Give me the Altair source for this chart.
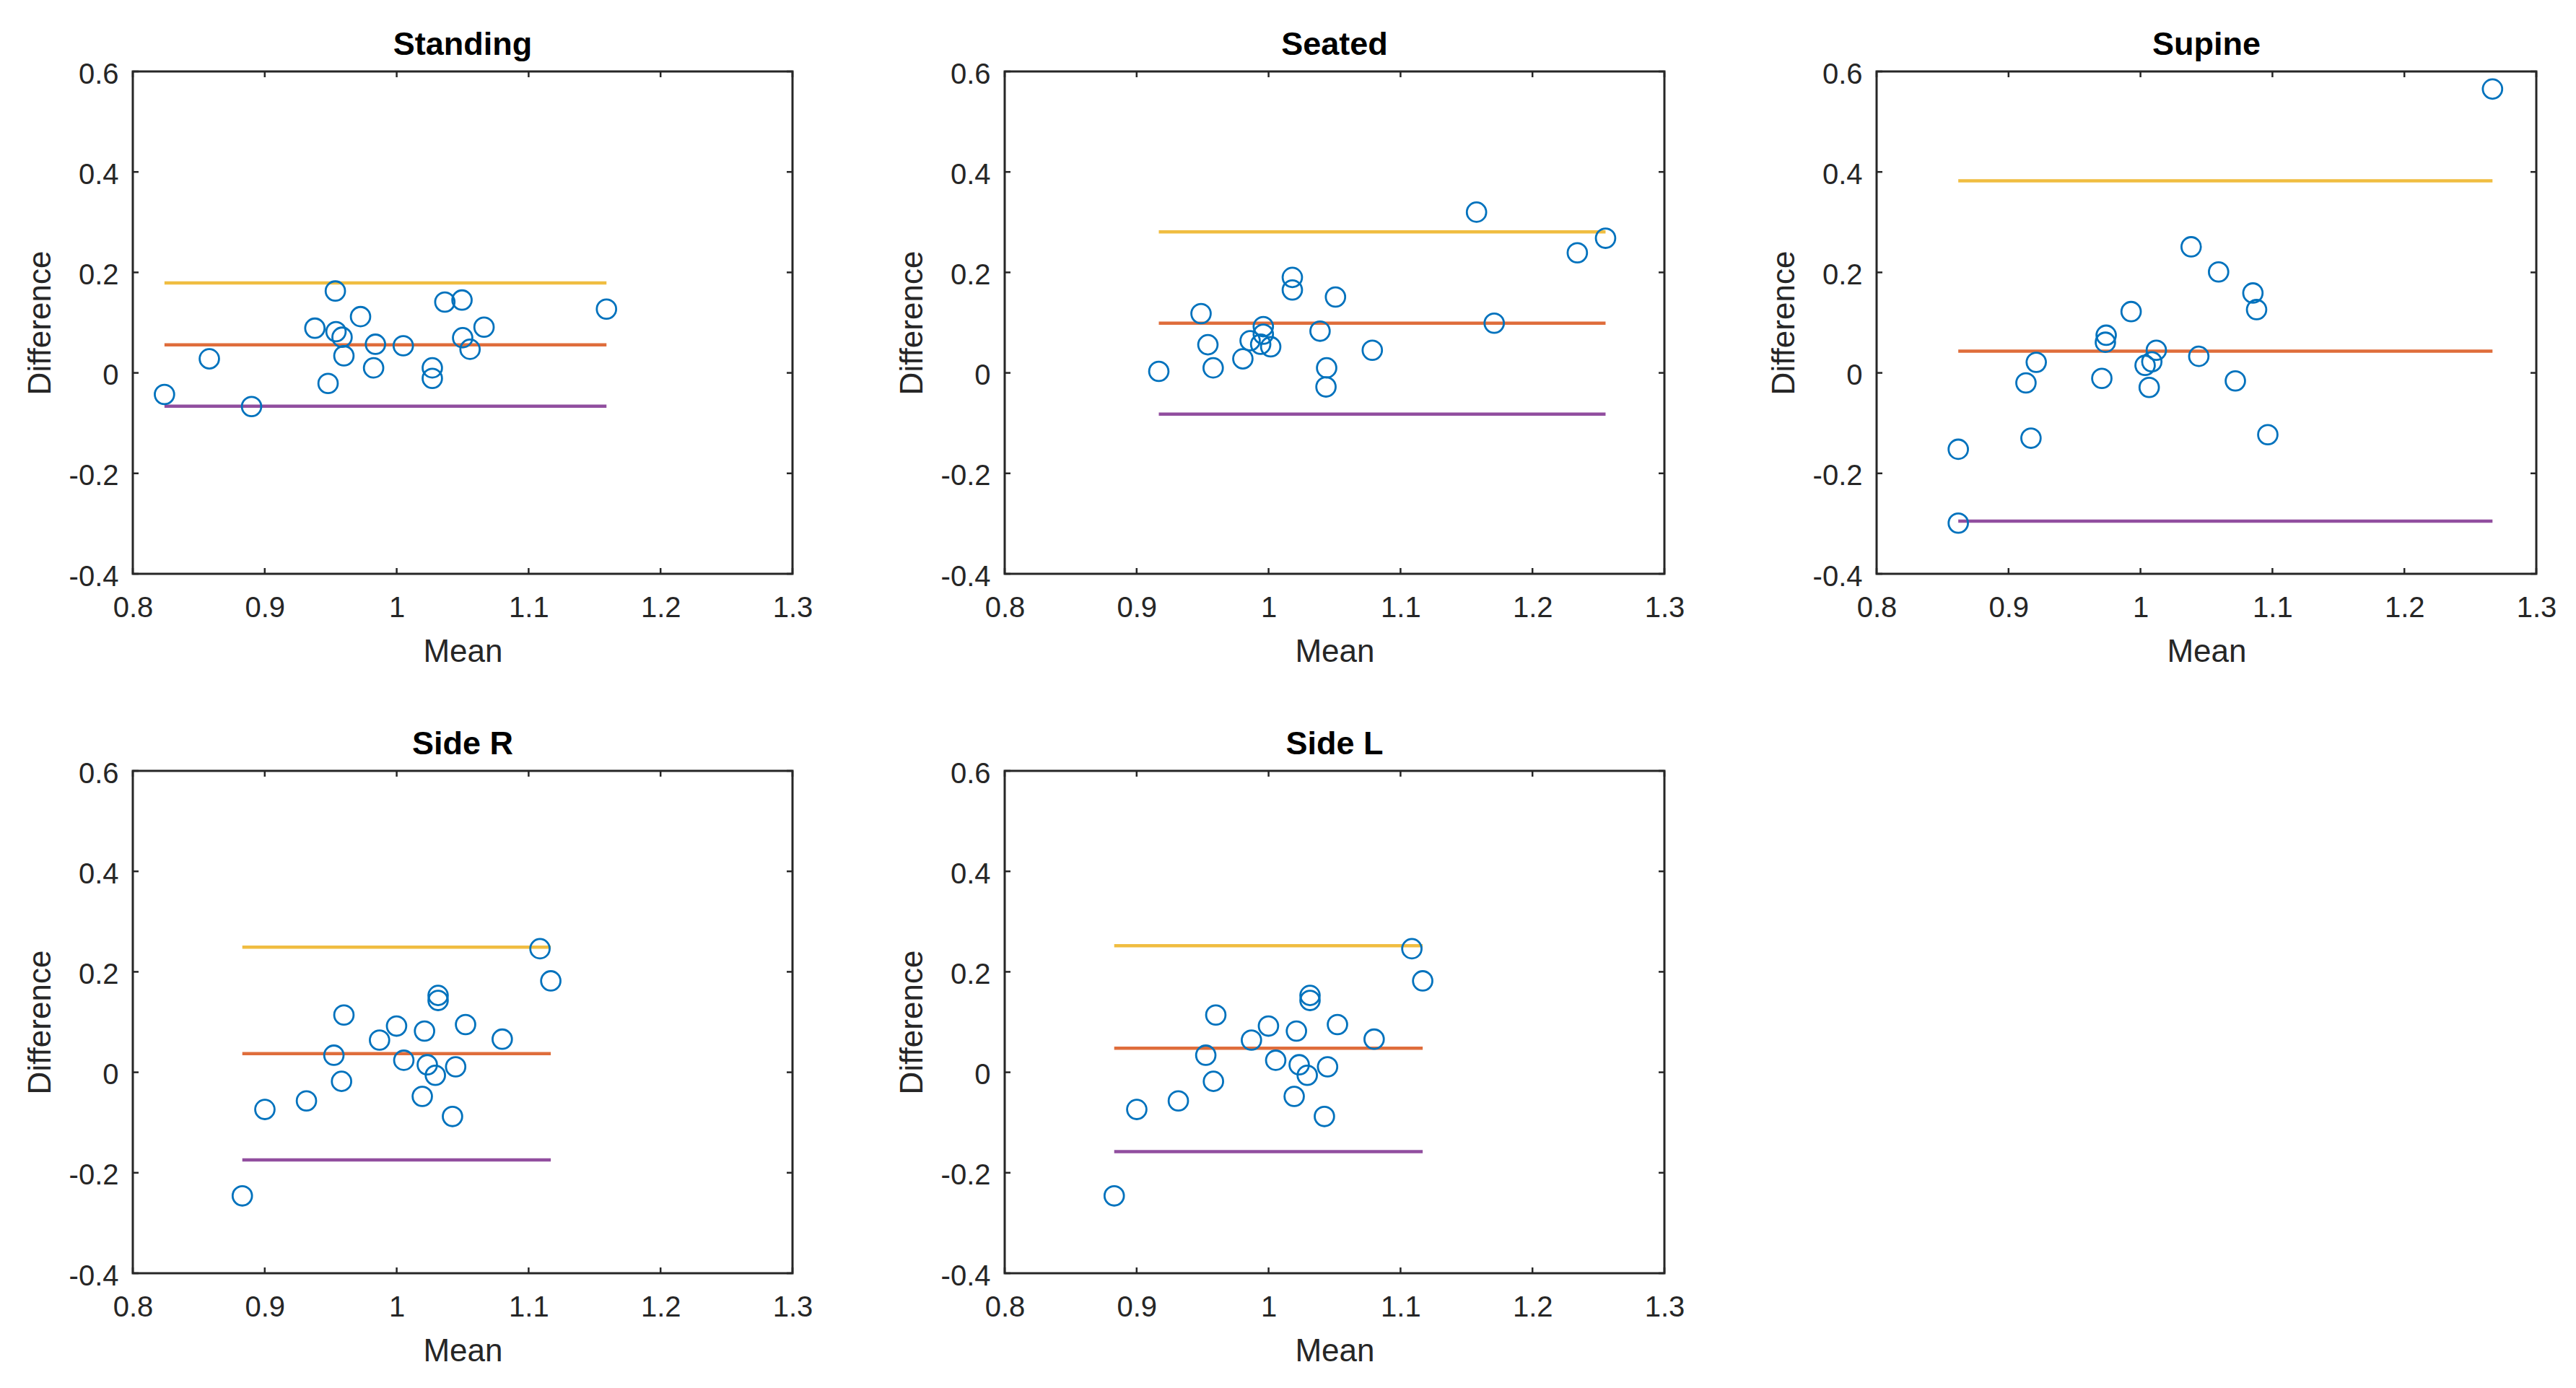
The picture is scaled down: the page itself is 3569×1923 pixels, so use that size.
import altair as alt
import pandas as pd

# ---------------- data ----------------
panel_titles = ["Standing", "Seated", "Supine", "Side R", "Side L"]

standing_mean = [0.824, 0.858, 0.890, 0.938, 0.948, 0.9535, 0.954, 0.9586, 0.960, 0.9726,
                 0.9825, 0.9839, 1.005, 1.027, 1.027, 1.0365, 1.0495, 1.050, 1.0556, 1.0662, 1.159]
standing_diff = [-0.043, 0.028, -0.067, 0.089, -0.021, 0.163, 0.082, 0.071, 0.034, 0.112,
                 0.010, 0.057, 0.054, 0.010, -0.011, 0.141, 0.145, 0.070, 0.047, 0.091, 0.127]

seated_mean = [0.9168, 0.9488, 0.954, 0.958, 0.9805, 0.986, 0.996, 0.996, 0.994, 1.0016,
               1.018, 1.018, 1.039, 1.044, 1.0435, 1.0507, 1.0786, 1.1576, 1.171, 1.234, 1.2554]
seated_diff = [0.003, 0.118, 0.056, 0.010, 0.028, 0.064, 0.092, 0.077, 0.057, 0.052,
               0.190, 0.165, 0.083, 0.010, -0.028, 0.151, 0.045, 0.320, 0.099, 0.239, 0.268]

supine_mean = [1.2668, 1.0384, 1.0592, 1.0852, 1.088, 0.9929, 0.974, 0.9734, 1.012, 1.0442,
               0.921, 1.0086, 1.0035, 0.9707, 0.9132, 1.0719, 1.0066, 0.917, 1.0965, 0.8619, 0.8619]
supine_diff = [0.565, 0.251, 0.201, 0.159, 0.126, 0.122, 0.075, 0.061, 0.045, 0.033,
               0.021, 0.022, 0.015, -0.011, -0.020, -0.016, -0.029, -0.130, -0.123, -0.152, -0.299]

side_r_mean = [1.1086, 1.1168, 1.0314, 1.0314, 0.960, 0.9999, 1.0522, 1.0211, 0.987, 1.080,
               0.9524, 1.0054, 1.0232, 1.0447, 1.0293, 0.9582, 1.0194, 0.9316, 0.9001, 1.0423, 0.883]
side_r_diff = [0.246, 0.182, 0.153, 0.143, 0.114, 0.092, 0.095, 0.082, 0.064, 0.066,
               0.034, 0.024, 0.015, 0.011, -0.006, -0.018, -0.048, -0.057, -0.074, -0.088, -0.246]

side_l_mean = [1.1086, 1.1168, 1.0314, 1.0314, 0.960, 0.9999, 1.0522, 1.0211, 0.987, 1.080,
               0.9524, 1.0054, 1.0232, 1.0447, 1.0293, 0.9582, 1.0194, 0.9316, 0.9001, 1.0423, 0.883]
side_l_diff = [0.246, 0.182, 0.153, 0.143, 0.114, 0.092, 0.095, 0.082, 0.064, 0.066,
               0.034, 0.024, 0.015, 0.011, -0.006, -0.018, -0.048, -0.057, -0.074, -0.088, -0.246]

upper_loa = [0.179, 0.2805, 0.3824, 0.249, 0.252]
mean_bias = [0.0558, 0.099, 0.0433, 0.037, 0.048]
lower_loa = [-0.0663, -0.082, -0.295, -0.1745, -0.158]

x_ticks = [0.8, 0.9, 1.0, 1.1, 1.2, 1.3]
y_ticks = [-0.4, -0.2, 0, 0.2, 0.4, 0.6]

means = [standing_mean, seated_mean, supine_mean, side_r_mean, side_l_mean]
diffs = [standing_diff, seated_diff, supine_diff, side_r_diff, side_l_diff]

# ---------------- style ----------------
W, H = 914, 696
TICK = 8
FONT = "Liberation Sans"
AX = "#262626"
C_PTS = "#0072BD"
C_UP = "#EDB120"
C_BIAS = "#D95319"
C_LOW = "#7E2F8E"

xscale = alt.Scale(domain=[0.8, 1.3], nice=False, zero=False)
yscale = alt.Scale(domain=[-0.4, 0.6], nice=False, zero=False)
label_expr = "replace(format(datum.value, '~g'), '\u2212', '-')"

xaxis = alt.Axis(values=x_ticks, labelExpr=label_expr, title="Mean", grid=False,
                 domain=False, ticks=False, tickSize=0, labelPadding=27,
                 titlePadding=19, labelFlush=False)
yaxis = alt.Axis(values=y_ticks, labelExpr=label_expr, title="Difference", grid=False,
                 domain=False, ticks=False, tickSize=0, labelPadding=20,
                 titlePadding=17, labelOffset=4)

xt_df = pd.DataFrame({"t": x_ticks})
yt_df = pd.DataFrame({"t": y_ticks})


def panel(i):
    pts = pd.DataFrame({"mean": means[i], "diff": diffs[i]})
    lo, hi = min(means[i]), max(means[i])
    lines = pd.DataFrame({
        "x1": [lo, lo, lo], "x2": [hi, hi, hi],
        "y": [upper_loa[i], mean_bias[i], lower_loa[i]],
        "kind": ["upper", "bias", "lower"],
    })
    base_lines = alt.Chart(lines).mark_rule(strokeWidth=4.5, opacity=0.85).encode(
        x=alt.X("x1:Q", scale=xscale, axis=xaxis),
        x2="x2:Q",
        y=alt.Y("y:Q", scale=yscale, axis=yaxis),
        color=alt.Color("kind:N", scale=alt.Scale(domain=["upper", "bias", "lower"],
                                                  range=[C_UP, C_BIAS, C_LOW]), legend=None),
    )
    points = alt.Chart(pts).mark_point(shape="circle", filled=False, size=720,
                                       strokeWidth=2.8, color=C_PTS, opacity=1).encode(
        x=alt.X("mean:Q", scale=xscale, axis=xaxis),
        y=alt.Y("diff:Q", scale=yscale, axis=yaxis),
    )
    tb = alt.Chart(xt_df).mark_rule(color=AX, strokeWidth=2.5).encode(
        x=alt.X("t:Q", scale=xscale, axis=xaxis), y=alt.value(H), y2=alt.value(H - TICK))
    tt = alt.Chart(xt_df).mark_rule(color=AX, strokeWidth=2.5).encode(
        x=alt.X("t:Q", scale=xscale, axis=xaxis), y=alt.value(0), y2=alt.value(TICK))
    tl = alt.Chart(yt_df).mark_rule(color=AX, strokeWidth=2.5).encode(
        y=alt.Y("t:Q", scale=yscale, axis=yaxis), x=alt.value(0), x2=alt.value(TICK))
    tr = alt.Chart(yt_df).mark_rule(color=AX, strokeWidth=2.5).encode(
        y=alt.Y("t:Q", scale=yscale, axis=yaxis), x=alt.value(W), x2=alt.value(W - TICK))
    return alt.layer(base_lines, points, tb, tt, tl, tr).properties(
        width=W, height=H,
        title=alt.TitleParams(panel_titles[i], fontSize=45, fontWeight="bold", font=FONT,
                              color="#000000", baseline="alphabetic", offset=-38),
    )


chart = alt.concat(*[panel(i) for i in range(5)], columns=3,
                   spacing={"row": 273, "column": 294}, bounds="flush").properties(
    padding={"left": 24, "top": 30, "right": 5, "bottom": 5},
    background="white",
).configure_view(
    stroke=AX, strokeWidth=3
).configure_axis(
    labelFont=FONT, labelFontSize=40, labelColor=AX,
    titleFont=FONT, titleFontSize=44, titleFontWeight="normal", titleColor=AX,
)

chart.save("out.html", embed_options={"renderer": "svg", "actions": False})
